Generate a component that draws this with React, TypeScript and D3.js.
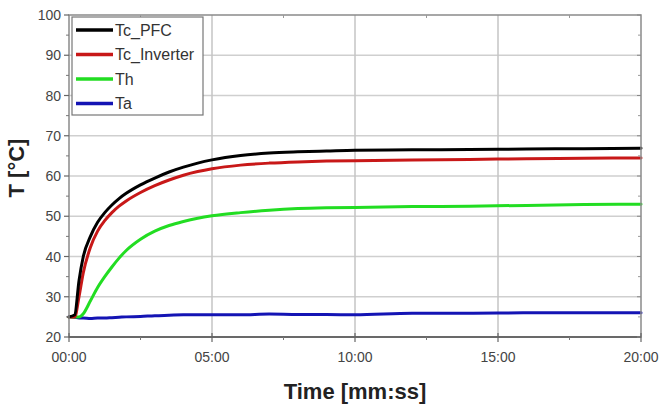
import React from "react";
import * as d3 from "d3";

// time in minutes
const times = [0, 0.2, 0.35, 0.5, 0.75, 1, 1.25, 1.5, 1.75, 2, 2.5, 3, 3.5, 4, 4.5, 5, 6, 7, 8, 9, 10, 12, 14, 16, 18, 20];

const tcPfc = [25, 25.5, 34, 40, 45, 48.5, 50.9, 52.8, 54.4, 55.7, 57.8, 59.5, 61, 62.2, 63.2, 64, 65.1, 65.7, 66, 66.2, 66.4, 66.5, 66.6, 66.7, 66.8, 66.9];
const tcInverter = [25, 25, 30, 36, 42.3, 46.3, 48.9, 50.9, 52.5, 53.8, 55.9, 57.6, 59, 60.2, 61.1, 61.8, 62.7, 63.2, 63.5, 63.7, 63.8, 64, 64.1, 64.3, 64.4, 64.5];
const th = [25, 25, 25, 25.8, 29, 32.3, 35, 37.4, 39.6, 41.5, 44.3, 46.3, 47.7, 48.7, 49.5, 50.1, 50.9, 51.5, 51.9, 52.1, 52.2, 52.4, 52.5, 52.7, 52.9, 53];
const ta = [25, 24.9, 24.7, 24.7, 24.6, 24.7, 24.7, 24.8, 24.9, 25, 25.1, 25.3, 25.4, 25.5, 25.5, 25.5, 25.5, 25.7, 25.6, 25.6, 25.5, 25.9, 25.9, 26, 26, 26];

const seriesNames = ["Tc_PFC", "Tc_Inverter", "Th", "Ta"];
const seriesColors = ["#000000", "#c81818", "#22dd22", "#1414b4"];
const seriesValues = [tcPfc, tcInverter, th, ta];

const yTicks = [20, 30, 40, 50, 60, 70, 80, 90, 100];
const xTicks = [0, 5, 10, 15, 20];
const xTickLabels = ["00:00", "05:00", "10:00", "15:00", "20:00"];

const W = 662, H = 407;
const margin = { top: 15, right: 21, bottom: 70, left: 69 };
const font = "'Liberation Sans', Arial, sans-serif";

export default function App() {
  const x = d3.scaleLinear().domain([0, 20]).range([margin.left, W - margin.right]);
  const y = d3.scaleLinear().domain([20, 100]).range([H - margin.bottom, margin.top]);

  const line = d3.line<number>()
    .x((_, i) => x(times[i]))
    .y((d) => y(d))
    .curve(d3.curveMonotoneX);

  const minorY = d3.range(25, 100, 10);
  const minorX = d3.range(2.5, 20, 5);
  const x0 = x(0), x1 = x(20), y0 = y(20), y1 = y(100);

  return (
    <div style={{ position: "absolute", left: 0, top: 0 }}>
      <svg width={W} height={H} style={{ display: "block", background: "#fff" }}>
        {/* grid */}
        {yTicks.slice(1, -1).map((t) => (
          <line key={"gy" + t} x1={x0} x2={x1} y1={y(t)} y2={y(t)} stroke="#cfcfcf" strokeWidth={1.5} />
        ))}
        {xTicks.slice(1, -1).map((t) => (
          <line key={"gx" + t} x1={x(t)} x2={x(t)} y1={y1} y2={y0} stroke="#c4c4c4" strokeWidth={1.5} />
        ))}

        {/* series, Ta drawn first */}
        {seriesValues.slice().reverse().map((vals, ri) => {
          const i = seriesValues.length - 1 - ri;
          return (
            <path key={seriesNames[i]} d={line(vals) || ""} fill="none" stroke={seriesColors[i]}
              strokeWidth={3} strokeLinejoin="round" strokeLinecap="round" />
          );
        })}

        {/* frame */}
        <rect x={x0} y={y1} width={x1 - x0} height={y0 - y1} fill="none" stroke="#8a8a8a" strokeWidth={1.5} />
        <line x1={x0} x2={x1} y1={y0} y2={y0} stroke="#555" strokeWidth={1.5} />

        {/* ticks */}
        {yTicks.map((t) => (
          <g key={"yt" + t}>
            <line x1={x0 - 5} x2={x0} y1={y(t)} y2={y(t)} stroke="#666" strokeWidth={1.2} />
            <line x1={x1 - 4} x2={x1} y1={y(t)} y2={y(t)} stroke="#888" strokeWidth={1} />
            <text x={x0 - 8} y={y(t)} dy="0.36em" textAnchor="end" fontFamily={font} fontSize={14} fill="#444">{t}</text>
          </g>
        ))}
        {minorY.map((t) => (
          <g key={"ym" + t}>
            <line x1={x0 - 3} x2={x0} y1={y(t)} y2={y(t)} stroke="#777" strokeWidth={1} />
            <line x1={x1 - 3} x2={x1} y1={y(t)} y2={y(t)} stroke="#999" strokeWidth={1} />
          </g>
        ))}
        {xTicks.map((t, i) => (
          <g key={"xt" + t}>
            <line x1={x(t)} x2={x(t)} y1={y0 - 4} y2={y0 + 5} stroke="#666" strokeWidth={1.2} />
            <text x={x(t)} y={y0 + 25} textAnchor="middle" fontFamily={font} fontSize={14} fill="#444">{xTickLabels[i]}</text>
          </g>
        ))}
        {minorX.map((t) => (
          <g key={"xm" + t}>
            <line x1={x(t)} x2={x(t)} y1={y0} y2={y0 + 3} stroke="#777" strokeWidth={1} />
            <line x1={x(t)} x2={x(t)} y1={y1} y2={y1 + 3} stroke="#999" strokeWidth={1} />
          </g>
        ))}

        {/* legend */}
        <rect x={72} y={17} width={131} height={98} fill="#fff" stroke="#777" strokeWidth={1.2} />
        {seriesNames.map((n, i) => (
          <g key={"lg" + n} transform={`translate(76,${30 + i * 24.5})`}>
            <line x1={0} x2={37} y1={0} y2={0} stroke={seriesColors[i]} strokeWidth={3.5} />
            <text x={39} y={0} dy="0.36em" fontFamily={font} fontSize={16} fill="#333">{n}</text>
          </g>
        ))}

        {/* axis titles */}
        <text transform="translate(24,168) rotate(-90)" textAnchor="middle"
          fontFamily={font} fontWeight="bold" fontSize={22} fill="#222">T [°C]</text>
        <text x={(x0 + x1) / 2} y={399} textAnchor="middle"
          fontFamily={font} fontWeight="bold" fontSize={22} fill="#222">Time [mm:ss]</text>
      </svg>
    </div>
  );
}
